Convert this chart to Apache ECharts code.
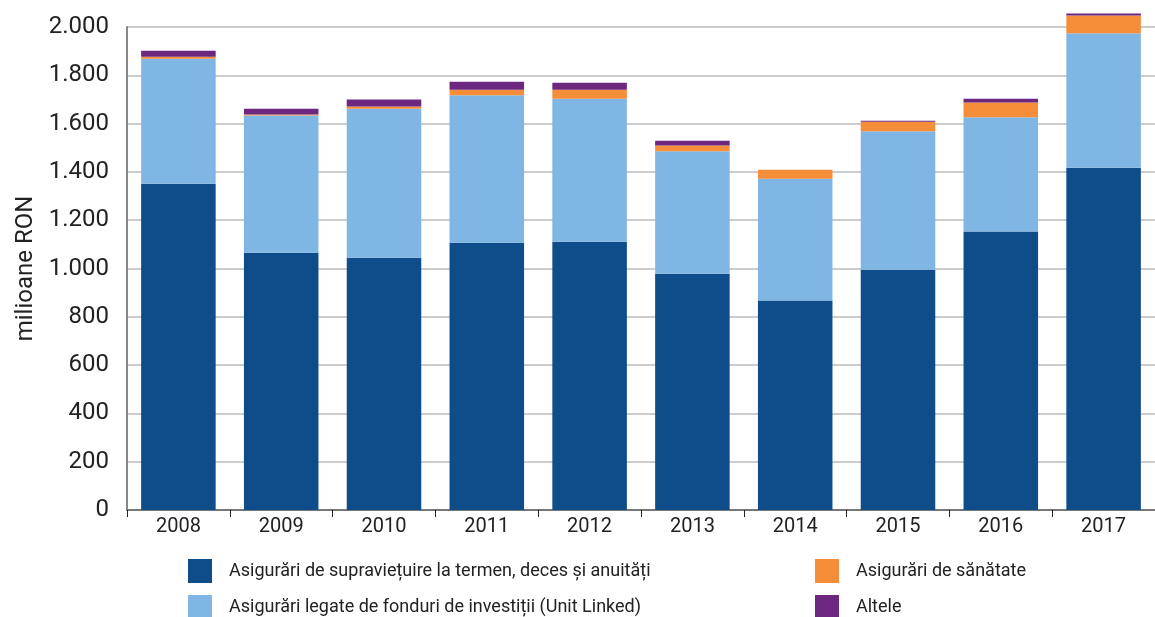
<!DOCTYPE html>
<html>
<head>
<meta charset="utf-8">
<script src="https://cdn.jsdelivr.net/npm/echarts@6/dist/echarts.min.js"></script>
<style>
  html, body { margin: 0; padding: 0; background: #fff; }
  #main { width: 1155px; height: 617px; }
</style>
</head>
<body>
<div id="main"></div>
<script>
var years = ['2008', '2009', '2010', '2011', '2012', '2013', '2014', '2015', '2016', '2017'];
var seriesNames = [
  'Asigurări de supraviețuire la termen, deces și anuități',
  'Asigurări legate de fonduri de investiții (Unit Linked)',
  'Asigurări de sănătate',
  'Altele'
];
// milioane RON
var supravietuire = [1351, 1065, 1045, 1107, 1111, 978, 867, 995, 1153, 1417];
var unitLinked = [518, 569, 617, 610, 592, 507, 505, 573, 473, 557];
var sanatate = [8, 4, 9, 23, 37, 24, 37, 40, 61, 74];
var altele = [25, 24, 29, 33, 29, 20, 0, 4, 16, 8];
var culori = ['#0f4d8a', '#80b6e3', '#f68d39', '#6e2780'];

var myChart = echarts.init(document.getElementById('main'));

function serie(i, data) {
  return {
    name: seriesNames[i],
    type: 'bar',
    stack: 'total',
    data: data,
    clip: false,
    barCategoryGap: '27.5%',
    itemStyle: { color: culori[i] }
  };
}

// cate o legenda pentru fiecare element (doua coloane)
var legendPos = [[188, 559], [188, 595], [815, 559], [815, 595]];
function legenda(i) {
  return {
    data: [seriesNames[i]],
    left: legendPos[i][0], top: legendPos[i][1],
    padding: 0,
    itemWidth: 24, itemHeight: 24,
    icon: 'rect',
    textStyle: { color: '#222', fontSize: 18, fontFamily: 'Roboto', padding: [0, 0, 0, 12] }
  };
}

var option = {
  backgroundColor: '#fff',
  animation: false,
  textStyle: { fontFamily: 'Roboto' },
  grid: { left: 127, top: 27, right: -7, bottom: 107 },
  legend: [legenda(0), legenda(1), legenda(2), legenda(3)],
  xAxis: {
    type: 'category',
    data: years,
    axisLine: { lineStyle: { color: '#777', width: 2 } },
    axisTick: { show: true, length: 7, lineStyle: { color: '#222' } },
    axisLabel: { color: '#222', fontSize: 20, margin: 7 }
  },
  yAxis: {
    type: 'value',
    min: 0, max: 2000, interval: 200,
    name: 'milioane RON',
    nameLocation: 'middle',
    nameGap: 78,
    nameTextStyle: { color: '#222', fontSize: 24 },
    axisLine: { show: true, lineStyle: { color: '#888', width: 2 } },
    axisTick: { show: false },
    splitLine: { lineStyle: { color: '#bbb', width: 1.5 } },
    axisLabel: {
      color: '#222', fontSize: 24, margin: 18,
      formatter: function (v) { return String(v).replace(/\B(?=(\d{3})+(?!\d))/g, '.'); }
    }
  },
  series: [
    serie(0, supravietuire),
    serie(1, unitLinked),
    serie(2, sanatate),
    serie(3, altele)
  ]
};
myChart.setOption(option);
</script>
</body>
</html>
